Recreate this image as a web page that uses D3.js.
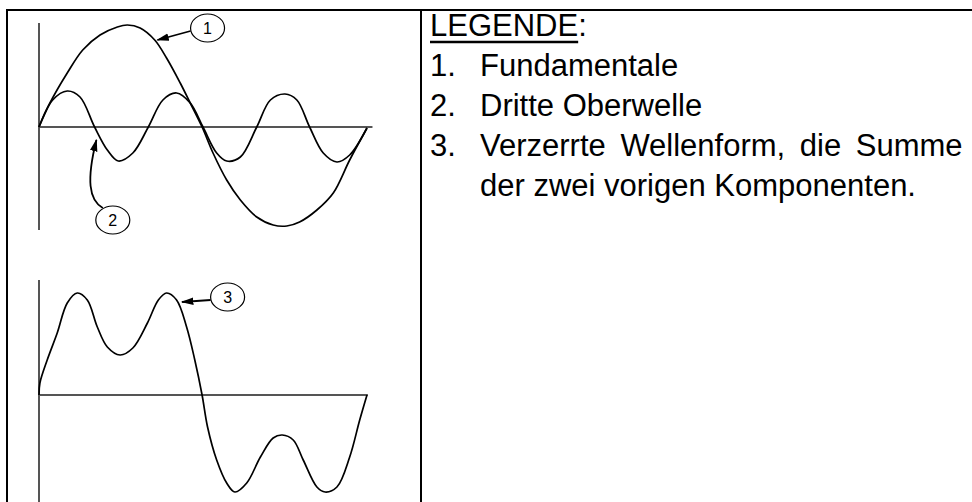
<!DOCTYPE html>
<html>
<head>
<meta charset="utf-8">
<script src="https://cdn.jsdelivr.net/npm/d3@7"></script>
<style>
  body { margin: 0; background: #fff; }
  svg { display: block; font-family: "Liberation Sans", Arial, sans-serif; }
</style>
</head>
<body>
<svg id="chart"></svg>
<script>
// phase angle in degrees, amplitude in relative units
const fundDeg = [0, 12, 31, 48, 67, 86, 97, 111, 127, 140, 155, 166, 179, 191, 206, 221, 239, 257, 272, 286, 305, 323, 341, 360];
const fundVal = [0, 0.24, 0.54, 0.77, 0.92, 1.00, 1.02, 0.99, 0.87, 0.69, 0.44, 0.24, 0, -0.26, -0.53, -0.73, -0.90, -0.98, -0.99, -0.95, -0.83, -0.66, -0.33, -0.01];

const harmDeg = [0, 15, 31, 45, 61, 75, 87, 103, 120, 136, 151, 166, 180, 195, 206, 221, 239, 254, 270, 283, 297, 312, 327, 341, 360];
const harmVal = [0, 0.27, 0.36, 0.30, 0, -0.23, -0.34, -0.26, 0, 0.27, 0.34, 0.24, 0, -0.26, -0.34, -0.30, 0, 0.27, 0.33, 0.27, 0, -0.26, -0.35, -0.28, -0.01];

const sumDeg = [0, 1, 9, 20, 31, 42, 53, 64, 75, 89, 103, 119, 131, 140, 151, 162, 171, 179, 185, 195, 206, 215, 228, 243, 257, 267, 279, 290, 305, 314, 327, 341, 352, 360];
const sumVal = [0, 0.12, 0.35, 0.62, 0.92, 1.02, 0.95, 0.68, 0.48, 0.40, 0.47, 0.72, 0.95, 1.02, 0.95, 0.68, 0.35, 0, -0.32, -0.65, -0.88, -0.97, -0.88, -0.62, -0.43, -0.40, -0.45, -0.65, -0.92, -0.97, -0.92, -0.62, -0.25, 0];

// callout labels: number, panel, ellipse position, arrow tip (deg, value)
const calloutNum = ["1", "2", "3"];
const calloutPanel = [0, 0, 1];
const calloutAt = [[185, 0.99], [81, -0.93], [207, 0.98]];
const calloutTip = [[130, 0.87], [63, -0.13], [157, 0.93]];

const legendTitle = "LEGENDE";
const legendItems = ["Fundamentale", "Dritte Oberwelle", "Verzerrte Wellenform, die Summe", "der zwei vorigen Komponenten."];
const legendNums = ["1.", "2.", "3.", ""];

const W = 972, H = 502;
const svg = d3.select("#chart").attr("width", W).attr("height", H);

svg.append("defs").append("marker")
    .attr("id", "arrow")
    .attr("viewBox", "0 0 10 10")
    .attr("refX", 9).attr("refY", 5)
    .attr("markerWidth", 7).attr("markerHeight", 7)
    .attr("orient", "auto")
    .append("path").attr("d", "M0,2 L10,5 L0,8 Z").attr("fill", "#000");

// table frame (right and bottom edges are outside the picture)
const tableLeft = 7, tableTop = 10, divider = 421;
svg.append("path")
    .attr("d", `M${tableLeft},${H + 2} V${tableTop} H${W + 2}`)
    .attr("fill", "none").attr("stroke", "#000").attr("stroke-width", 2);
svg.append("line")
    .attr("x1", divider).attr("x2", divider).attr("y1", tableTop).attr("y2", H + 2)
    .attr("stroke", "#000").attr("stroke-width", 2);

const x = d3.scaleLinear().domain([0, 360]).range([39, 367]);
const yTop = d3.scaleLinear().domain([-1, 1]).range([227, 27]);
const yBot = d3.scaleLinear().domain([-1, 1]).range([495, 295]);
const yScales = [yTop, yBot];

// axes (plain lines, no ticks)
function drawAxes(y, yStart, yEnd, xEnd) {
    svg.append("line")
        .attr("x1", x(0)).attr("x2", x(0)).attr("y1", yStart).attr("y2", yEnd)
        .attr("stroke", "#555").attr("stroke-width", 2);
    svg.append("line")
        .attr("x1", x(0)).attr("x2", x(xEnd)).attr("y1", y(0)).attr("y2", y(0))
        .attr("stroke", "#555").attr("stroke-width", 2);
}
drawAxes(yTop, 23, 230, 366);
drawAxes(yBot, 280, H + 2, 361);

function drawWave(degs, vals, y) {
    const pts = degs.map((d, i) => [d, vals[i]]);
    const line = d3.line()
        .x(d => x(d[0]))
        .y(d => y(d[1]))
        .curve(d3.curveCatmullRom);
    svg.append("path")
        .datum(pts)
        .attr("d", line)
        .attr("fill", "none")
        .attr("stroke", "#000")
        .attr("stroke-width", 1.7);
}
drawWave(fundDeg, fundVal, yTop);
drawWave(harmDeg, harmVal, yTop);
drawWave(sumDeg, sumVal, yBot);

// callouts
calloutNum.forEach((n, i) => {
    const y = yScales[calloutPanel[i]];
    const cx = x(calloutAt[i][0]), cy = y(calloutAt[i][1]);
    const tx = x(calloutTip[i][0]), ty = y(calloutTip[i][1]);
    const rx = 17, ry = 14;
    let d;
    if (n === "2") {
        // curved leader coming up from below
        const sx = cx - 10, sy = cy - ry + 2;
        d = `M${sx},${sy} C${sx - 14},${sy - 8} ${tx - 10},${ty + 40} ${tx},${ty}`;
    } else {
        const sx = cx - rx, sy = cy + 3;
        d = `M${sx},${sy} L${tx},${ty}`;
    }
    svg.append("path")
        .attr("d", d)
        .attr("fill", "none")
        .attr("stroke", "#000")
        .attr("stroke-width", 1.8)
        .attr("marker-end", "url(#arrow)");
    svg.append("ellipse")
        .attr("cx", cx).attr("cy", cy).attr("rx", rx).attr("ry", ry)
        .attr("fill", "#fff").attr("stroke", "#000").attr("stroke-width", 1.2);
    svg.append("text")
        .attr("x", cx).attr("y", cy + 6)
        .attr("text-anchor", "middle")
        .attr("font-size", 16)
        .text(n);
});

// legend text
const legX = divider + 9, itemX = divider + 59;
const fs = 31, lineH = 40, firstBase = 36;
const title = svg.append("text")
    .attr("x", legX).attr("y", firstBase)
    .attr("font-size", fs)
    .text(legendTitle);
const titleW = title.node().getComputedTextLength();
svg.append("line")
    .attr("x1", legX).attr("x2", legX + titleW)
    .attr("y1", firstBase + 6).attr("y2", firstBase + 6)
    .attr("stroke", "#000").attr("stroke-width", 2.5);
svg.append("text")
    .attr("x", legX + titleW).attr("y", firstBase)
    .attr("font-size", fs)
    .text(":");

legendItems.forEach((t, i) => {
    const by = firstBase + lineH * (i + 1);
    svg.append("text")
        .attr("x", legX).attr("y", by)
        .attr("font-size", fs)
        .text(legendNums[i]);
    svg.append("text")
        .attr("x", itemX).attr("y", by)
        .attr("font-size", fs)
        .attr("word-spacing", i === 2 ? 6 : 0)
        .text(t);
});
</script>
</body>
</html>
